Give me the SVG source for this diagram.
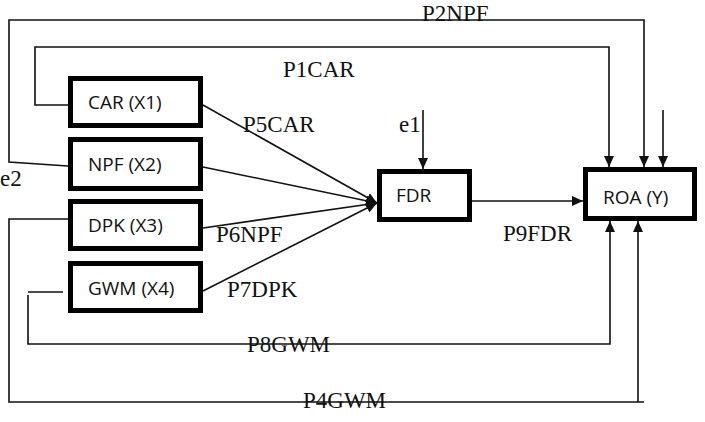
<svg xmlns="http://www.w3.org/2000/svg" width="705" height="422" viewBox="0 0 705 422">
<style>
.box{fill:#fff;stroke:#000;stroke-width:5}
.bt{font-family:"Open Sans","Liberation Sans",sans-serif;font-size:19px;fill:#111}
.lb{font-family:"Liberation Serif","Times New Roman",serif;font-size:23px;fill:#111}
.ln{fill:none;stroke:#111;stroke-width:1.6}
.ar{fill:none;stroke:#111;stroke-width:1.6;marker-end:url(#ah)}
</style>
<defs>
<marker id="ah" markerUnits="userSpaceOnUse" markerWidth="12" markerHeight="10" refX="11" refY="5" orient="auto">
<path d="M0,0 L11,5 L0,10 z" fill="#111"/>
</marker>
</defs>
<rect width="705" height="422" fill="#fff"/>
<g id="connectors">
<polyline class="ar" points="68,105 35,105 35,47 609,47 609,167"/>
<polyline class="ar" points="68,166 9,162 9,20 644,20 644,167"/>
<line class="ar" x1="663" y1="110" x2="663" y2="167"/>
<line class="ar" x1="423" y1="110" x2="423" y2="169"/>
<polyline class="ln" points="68,219 9,219 9,402 644,402"/>
<line class="ar" x1="638" y1="402" x2="638" y2="221"/>
<line class="ln" x1="63" y1="292" x2="28" y2="292"/>
<polyline class="ar" points="28,295 28,344 610,344 610,221"/>
<line class="ar" x1="203" y1="105" x2="377" y2="203"/>
<line class="ar" x1="203" y1="167" x2="377" y2="203"/>
<line class="ar" x1="203" y1="228" x2="377" y2="203"/>
<line class="ar" x1="203" y1="291" x2="377" y2="203"/>
<line class="ar" x1="472" y1="201" x2="583" y2="201"/>
</g>
<g id="labels">
<text class="lb" x="422" y="21">P2NPF</text>
<text class="lb" x="283" y="77">P1CAR</text>
<text class="lb" x="243" y="132">P5CAR</text>
<text class="lb" x="399" y="132">e1</text>
<text class="lb" x="0" y="186">e2</text>
<text class="lb" x="216" y="242">P6NPF</text>
<text class="lb" x="503" y="241">P9FDR</text>
<text class="lb" x="227" y="297">P7DPK</text>
<text class="lb" x="247" y="352">P8GWM</text>
<text class="lb" x="303" y="408">P4GWM</text>
</g>
<g id="car"><rect class="box" x="70.5" y="78.5" width="130" height="47"/><text class="bt" x="88" y="109">CAR (X1)</text></g>
<g id="npf"><rect class="box" x="70.5" y="139.5" width="130" height="49"/><text class="bt" x="88" y="171">NPF (X2)</text></g>
<g id="dpk"><rect class="box" x="70.5" y="201.5" width="130" height="47"/><text class="bt" x="88" y="232">DPK (X3)</text></g>
<g id="gwm"><rect class="box" x="70.5" y="263.5" width="130" height="47"/><text class="bt" x="88" y="295">GWM (X4)</text></g>
<g id="fdr"><rect class="box" x="379.5" y="171.5" width="90" height="48"/><text class="bt" x="396" y="202">FDR</text></g>
<g id="roa"><rect class="box" x="585.5" y="169.5" width="109" height="49"/><text class="bt" x="603" y="204">ROA (Y)</text></g>
</svg>
